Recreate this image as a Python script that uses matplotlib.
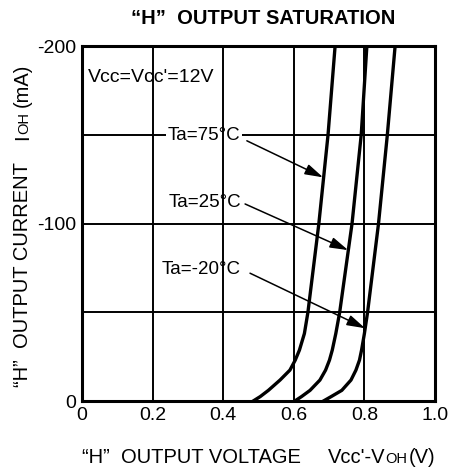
import matplotlib
matplotlib.use('Agg')
import matplotlib.pyplot as plt

plt.rcParams['font.family'] = ['Liberation Sans', 'DejaVu Sans']

# data (V, mA)
cur_75 = [0, -2.5, -6, -11.8, -17.4, -23, -28.7, -38, -50, -100, -150, -200]
volt_75 = [0.485, 0.505, 0.528, 0.561, 0.589, 0.604, 0.616, 0.630, 0.640, 0.671, 0.697, 0.717]
cur_25 = [0, -2.5, -6, -11.8, -17.4, -23, -28.7, -38, -50, -100, -150, -200]
volt_25 = [0.603, 0.622, 0.646, 0.674, 0.690, 0.701, 0.709, 0.719, 0.730, 0.765, 0.791, 0.807]
cur_m20 = [0, -2.5, -6, -11.8, -17.4, -23, -28.7, -38, -50, -100, -150, -200]
volt_m20 = [0.684, 0.706, 0.736, 0.762, 0.776, 0.786, 0.792, 0.800, 0.809, 0.840, 0.865, 0.887]

x_ticks = [0, 0.2, 0.4, 0.6, 0.8, 1.0]
x_tick_labels = ['0', '0.2', '0.4', '0.6', '0.8', '1.0']
y_ticks = [0, -100, -200]
y_tick_labels = ['0', '-100', '-200']
x_grid = [0.2, 0.4, 0.6, 0.8]
y_grid = [-50, -100, -150]

labels = ['Ta=75°C', 'Ta=25°C', 'Ta=-20°C']
label_x = [0.242, 0.245, 0.226]
label_y = [-149.4, -111.8, -74.3]
arrow_from = [(0.467, -146.6), (0.462, -111), (0.476, -72)]
arrow_to = [(0.683, -126), (0.754, -85), (0.802, -41)]

fig = plt.figure(figsize=(4.53, 4.67), dpi=100)
ax = fig.add_axes([82 / 453, 66 / 467, 353 / 453, 355 / 467])

for gx in x_grid:
    ax.axvline(gx, color='black', lw=1.4, zorder=3)
for gy in y_grid:
    ax.axhline(gy, color='black', lw=1.4, zorder=1)

for v, c in [(volt_75, cur_75), (volt_25, cur_25), (volt_m20, cur_m20)]:
    ax.plot(v, c, color='black', lw=2.4, zorder=4, solid_joinstyle='round')

for t, tx, ty in zip(labels, label_x, label_y):
    ax.text(tx, ty, t, ha='left', va='center', fontsize=13.5, zorder=2,
            bbox=dict(boxstyle='square,pad=0.1', fc='white', ec='none'))
for (x0, y0), (x1, y1) in zip(arrow_from, arrow_to):
    ax.annotate('', xy=(x1, y1), xytext=(x0, y0), zorder=5,
                arrowprops=dict(arrowstyle='-|>,head_length=0.85,head_width=0.25',
                                color='black', lw=1.1, mutation_scale=13,
                                shrinkA=0, shrinkB=0))

ax.text(0.018, -182, "Vcc=Vcc'=12V", ha='left', va='center', fontsize=14, zorder=2)

ax.set_xlim(0, 1)
ax.set_ylim(0, -200)
ax.set_xticks(x_ticks)
ax.set_xticklabels(x_tick_labels)
ax.set_yticks(y_ticks)
ax.set_yticklabels(y_tick_labels)
ax.tick_params(length=0, pad=4.5, labelsize=14)
for s in ax.spines.values():
    s.set_linewidth(2.2)

fig.text(263.5 / 453, 1 - 18.5 / 467, '“H”  OUTPUT SATURATION', ha='center', va='center',
         fontsize=14.5, fontweight='bold')

# y label, pieces chained so "OH" can be smaller
yl = fig.text(32 / 453, 1 - 387 / 467, '“H”  OUTPUT CURRENT', rotation=90,
              ha='right', va='bottom', fontsize=14.5)
p1 = ax.annotate('I', xy=(1, 1), xycoords=yl, xytext=(0, 16), textcoords='offset points',
                 rotation=90, ha='right', va='bottom', fontsize=14.5, annotation_clip=False)
p2 = ax.annotate('OH', xy=(1, 1), xycoords=p1, xytext=(-0.85, 0), textcoords='offset points',
                 rotation=90, ha='right', va='bottom', fontsize=10.5, annotation_clip=False)
ax.annotate('(mA)', xy=(1, 1), xycoords=p2, xytext=(0.85, 4), textcoords='offset points',
            rotation=90, ha='right', va='bottom', fontsize=14.5, annotation_clip=False)

# x label
fig.text(82 / 453, 1 - 463 / 467, '“H”  OUTPUT VOLTAGE', ha='left', va='baseline', fontsize=14.5)
q1 = fig.text(328 / 453, 1 - 463 / 467, "Vcc'-V", ha='left', va='baseline', fontsize=14.5)
q2 = ax.annotate('OH', xy=(1, 0), xycoords=q1, xytext=(0, 0.85), textcoords='offset points',
                 ha='left', va='bottom', fontsize=10.5, annotation_clip=False)
ax.annotate('(V)', xy=(1, 0), xycoords=q2, xytext=(1, -0.85), textcoords='offset points',
            ha='left', va='bottom', fontsize=14.5, annotation_clip=False)

fig.savefig('out.png', dpi=100)
